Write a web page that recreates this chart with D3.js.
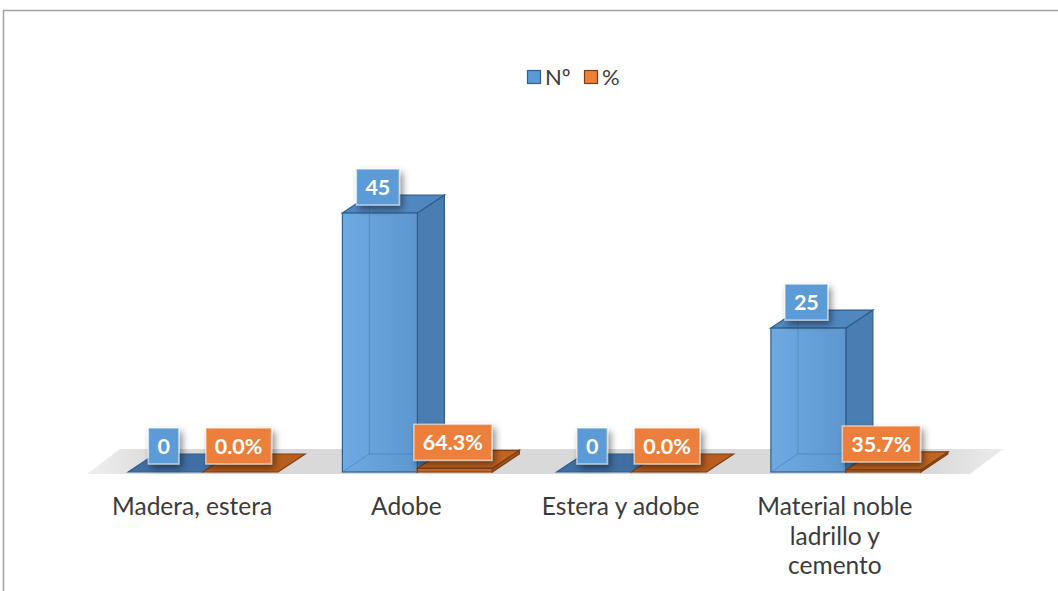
<!DOCTYPE html>
<html>
<head>
<meta charset="utf-8">
<script src="https://cdn.jsdelivr.net/npm/d3@7"></script>
<style>
  html, body { margin: 0; padding: 0; background: #ffffff; }
  svg { display: block; }
  text { font-family: "Lato", "Noto Sans", sans-serif; }
</style>
</head>
<body>
<svg id="chart" width="1058" height="591"></svg>
<script>
// Categories and the two series (count and share)
const categories = ["Madera, estera", "Adobe", "Estera y adobe", "Material noble ladrillo y cemento"];
const categoryLines = [["Madera, estera"], ["Adobe"], ["Estera y adobe"], ["Material noble", "ladrillo y", "cemento"]];
const seriesNames = ["Nº", "%"];
const countValues = [0, 45, 0, 25];
const shareValues = [0.0, 0.643, 0.0, 0.357];
const countLabels = ["0", "45", "0", "25"];
const shareLabels = ["0.0%", "64.3%", "0.0%", "35.7%"];

const W = 1058, H = 591;
const svg = d3.select("#chart");

const colors = {
  "Nº": { front: "#68a2da", side: "#4a7db2", top: "#5187c0", edge: "#2f5d8c", label: "#5b9bd5", flat: "#3f6fa3" },
  "%":  { front: "#c96a26", side: "#a4521a", top: "#c06522", edge: "#7d3e12", label: "#ec7f3a", flat: "#b95e1e" }
};

const defs = svg.append("defs");
const sh = defs.append("filter").attr("id", "shadow")
  .attr("x", "-30%").attr("y", "-30%").attr("width", "170%").attr("height", "170%");
sh.append("feDropShadow").attr("dx", 3).attr("dy", 4).attr("stdDeviation", 3.5)
  .attr("flood-color", "#000").attr("flood-opacity", 0.45);

const floorGrad = defs.append("linearGradient").attr("id", "floorGrad")
  .attr("x1", "0").attr("x2", "1").attr("y1", "0").attr("y2", "0");
floorGrad.append("stop").attr("offset", "0%").attr("stop-color", "#f0f0f0");
floorGrad.append("stop").attr("offset", "8%").attr("stop-color", "#d9d9d9");
floorGrad.append("stop").attr("offset", "92%").attr("stop-color", "#d9d9d9");
floorGrad.append("stop").attr("offset", "100%").attr("stop-color", "#ececec");

const frontGrad = defs.append("linearGradient").attr("id", "frontBlue")
  .attr("x1", "0").attr("x2", "1").attr("y1", "0").attr("y2", "0");
frontGrad.append("stop").attr("offset", "0%").attr("stop-color", "#6eaae2");
frontGrad.append("stop").attr("offset", "100%").attr("stop-color", "#5e97d0");

// Outer chart frame
svg.append("rect").attr("x", 3.5).attr("y", 10.5).attr("width", 1100).attr("height", 620)
  .attr("fill", "#ffffff").attr("stroke", "#a3a3a3").attr("stroke-width", 1.5);

// Scales
const x = d3.scaleBand().domain(categories).range([96, 953]).paddingInner(0.3).paddingOuter(0.15);
const xs = d3.scaleBand().domain(seriesNames).range([0, x.bandwidth()]);
const y = d3.scaleLinear().domain([0, 50]).range([472, 184.2]);

// 3D depth offsets
const dX = 27, dY = -18;

// Floor
const floorFront = y(0) + 2, floorBack = y(0) - 23;
const fx0 = x.range()[0] - 9, fx1 = x.range()[1] + 17;
svg.append("path")
  .attr("d", `M${fx0},${floorFront} L${fx0 + 33},${floorBack} L${fx1 + 33},${floorBack} L${fx1},${floorFront} Z`)
  .attr("fill", "url(#floorGrad)");

const data = [];
categories.forEach((c, i) => {
  data.push({ cat: c, series: "Nº", value: countValues[i], label: countLabels[i] });
  data.push({ cat: c, series: "%", value: shareValues[i], label: shareLabels[i] });
});

const bars = svg.append("g");
data.forEach(d => {
  const x0 = x(d.cat) + xs(d.series);
  const w = xs.bandwidth();
  const yb = y(0);
  const yt = y(d.value);
  const col = colors[d.series];
  const g = bars.append("g");
  const pts = a => a.map(p => p.join(",")).join(" ");
  if (yb - yt < 0.5) {
    // flat slab for zero values
    g.append("polygon")
      .attr("points", pts([[x0, yb], [x0 + dX, yb + dY], [x0 + w + dX, yb + dY], [x0 + w, yb]]))
      .attr("fill", col.flat).attr("stroke", col.edge).attr("stroke-width", 1.2);
    return;
  }
  // back edges seen through the translucent faces
  const backEdges = [
    [[x0 + dX, yb + dY], [x0 + dX, yt + dY]],
    [[x0 + dX, yb + dY], [x0 + w + dX, yb + dY]],
    [[x0, yb], [x0 + dX, yb + dY]]
  ];
  // right side
  g.append("polygon")
    .attr("points", pts([[x0 + w, yb], [x0 + w + dX, yb + dY], [x0 + w + dX, yt + dY], [x0 + w, yt]]))
    .attr("fill", col.side).attr("stroke", col.edge).attr("stroke-width", 1.2);
  // top
  g.append("polygon")
    .attr("points", pts([[x0, yt], [x0 + dX, yt + dY], [x0 + w + dX, yt + dY], [x0 + w, yt]]))
    .attr("fill", col.top).attr("stroke", col.edge).attr("stroke-width", 1.2);
  // front
  g.append("rect").attr("x", x0).attr("y", yt).attr("width", w).attr("height", yb - yt)
    .attr("fill", d.series === "Nº" ? "url(#frontBlue)" : col.front)
    .attr("stroke", col.edge).attr("stroke-width", 1.2);
  if (yb - yt > 20) {
    backEdges.forEach(e => {
      g.append("line").attr("x1", e[0][0]).attr("y1", e[0][1]).attr("x2", e[1][0]).attr("y2", e[1][1])
        .attr("stroke", "#3c6e9f").attr("stroke-opacity", 0.45).attr("stroke-width", 1);
    });
  }
});

// Data labels in boxes
const labels = svg.append("g");
data.forEach(d => {
  const cx = x(d.cat) + xs(d.series) + xs.bandwidth() / 2 - 2;
  const bottom = y(d.value) - 8;
  const g = labels.append("g");
  const t = g.append("text").attr("x", cx).attr("y", bottom - 10)
    .attr("text-anchor", "middle").attr("font-size", 21.5).attr("font-weight", 700)
    .attr("fill", "#ffffff").text(d.label);
  const tw = t.node().getComputedTextLength();
  const bw = tw + 18, bh = 36;
  g.insert("rect", "text").attr("x", cx - bw / 2).attr("y", bottom - bh).attr("width", bw).attr("height", bh)
    .attr("fill", colors[d.series].label).attr("stroke", "#ffffff").attr("stroke-opacity", 0.55)
    .attr("stroke-width", 1.5).attr("filter", "url(#shadow)");
});

// Category labels
const cl = svg.append("g");
categories.forEach((c, i) => {
  const cx = x(c) + x.bandwidth() / 2 - 11;
  const t = cl.append("text").attr("text-anchor", "middle").attr("font-size", 24.5).attr("fill", "#3b3b3b");
  categoryLines[i].forEach((ln, j) => {
    t.append("tspan").attr("x", cx).attr("y", 515 + j * 29.5).text(ln);
  });
});

// Legend
const legend = svg.append("g");
const legendItems = [{ name: "Nº", x: 527 }, { name: "%", x: 584 }];
legendItems.forEach(it => {
  legend.append("rect").attr("x", it.x + 0.5).attr("y", 70.5).attr("width", 13).attr("height", 13)
    .attr("fill", colors[it.name].label).attr("stroke", colors[it.name].edge).attr("stroke-width", 1.2);
  legend.append("text").attr("x", it.x + 18).attr("y", 85).attr("font-size", 22).attr("fill", "#3b3b3b").text(it.name);
});
</script>
</body>
</html>
